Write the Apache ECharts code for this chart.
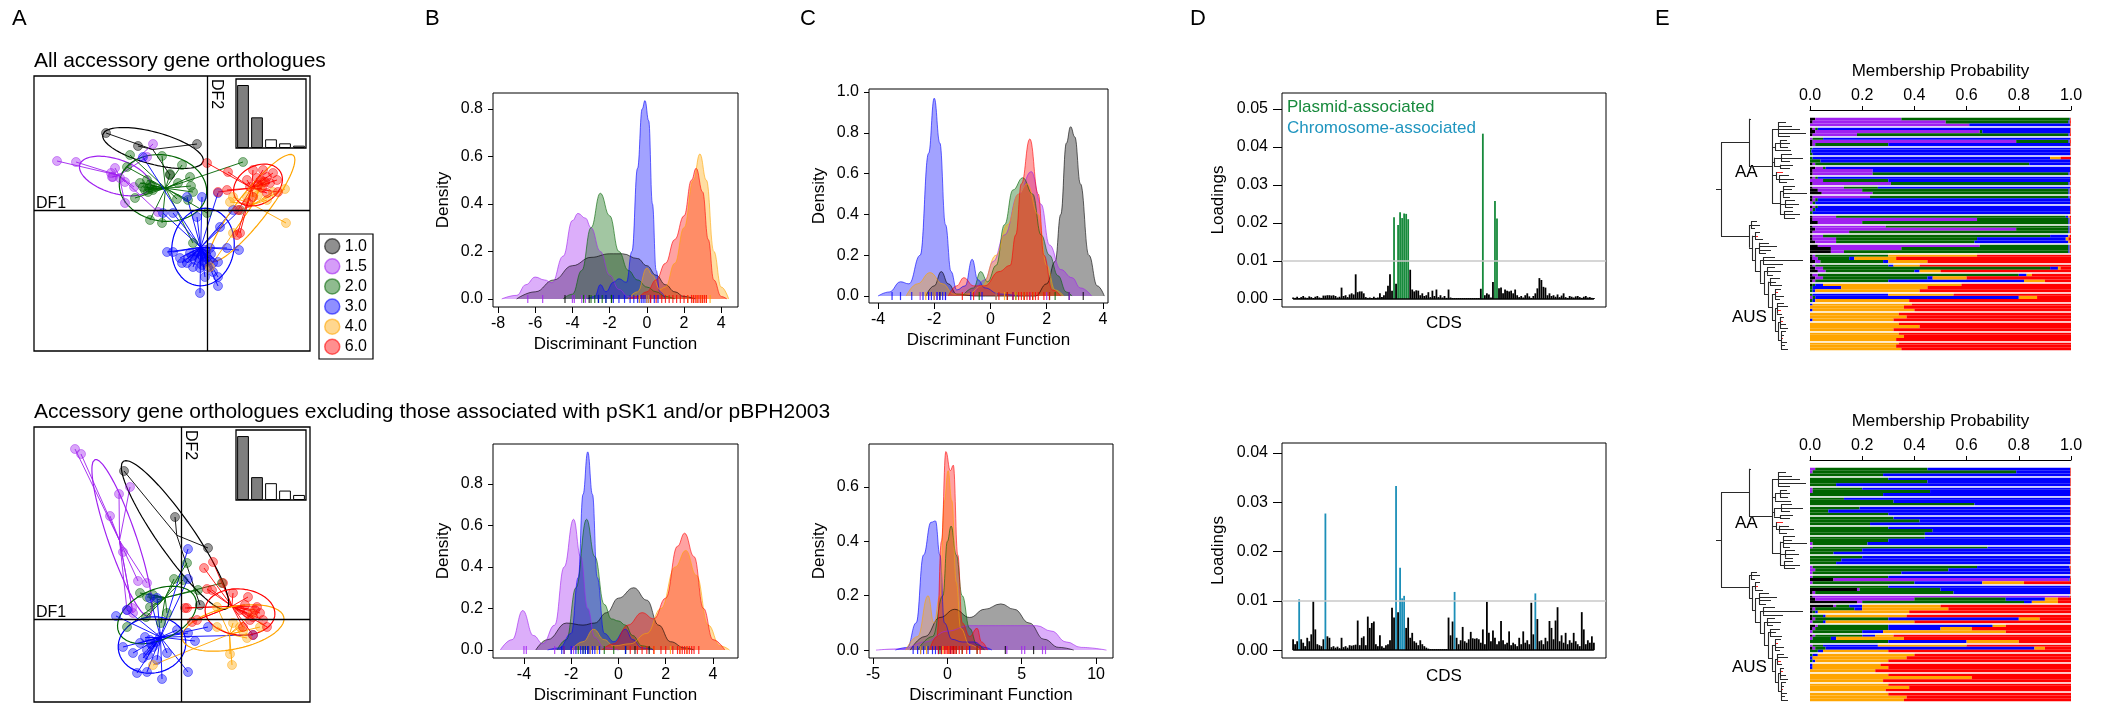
<!DOCTYPE html>
<html><head><meta charset="utf-8">
<script src="https://cdn.jsdelivr.net/npm/echarts@6/dist/echarts.min.js"></script>
<style>html,body{margin:0;padding:0;background:#fff}#c{width:2105px;height:709px}</style>
</head><body><div id="c"></div>
<script>
const FONT = '"Liberation Sans", Arial, Helvetica, sans-serif';
const groups = ['1.0','1.5','2.0','3.0','4.0','6.0'];
const groupColors = ['#000000','#a020f0','#006400','#0000ff','#ffa500','#ff0000'];

// ---------- Panel A: DAPC scatter (DF1, DF2) ----------
const scatA1 = [
 [[-10.1,7.7],[-6.9,6.4],[-1.0,6.6],[-3.7,3.5]],
 [[-15.0,4.9],[-13.1,4.8],[-9.6,3.7],[-9.4,3.3],[-9.2,4.2],[-8.2,2.8],[-7.3,2.3],[-8.2,0.7],[-4.9,-0.2],[-5.4,6.6],[-6.0,5.3],[-9.5,3.3],[-8.7,3.2]],
 [[-7.7,5.5],[-4.5,5.4],[-2.5,4.5],[-1.7,3.3],[-2.9,2.7],[-1.6,2.4],[-1.4,1.8],[-3.0,1.1],[-1.9,1.0],[-7.2,1.2],[-5.7,-1.0],[-4.5,-1.3],[0,-0.3],[3.6,4.8],[-3.7,3.6],[-8.0,4.3],[-6.0,3.0],[-5.7,2.5],[-6.4,2.3],[-5.4,2.0],[-5.9,1.8],[-6.7,2.7],[-1.4,-3.3],[-5.8,2.2],[-6.2,2.0],[-5.5,2.4]],
 [[-0.7,-8.3],[1.1,-7.6],[1.1,-6.7],[-4.0,-4.2],[-3.4,-4.2],[-2.7,-4.8],[-2.5,-5.3],[-2.0,-5.3],[-1.4,-5.7],[-0.7,-5.8],[0.1,-5.7],[0.6,-5.3],[2.0,-3.8],[3.2,-4.0],[-2.0,1.3],[-0.5,1.3],[1.1,1.7],[3.3,0],[-6.4,5.3],[-3.4,-0.3],[-4.4,-0.3],[-1.0,-0.7],[-0.4,-4.3],[0,-4.7],[-0.9,-4.8],[0.6,-6.2],[-0.2,-6.7],[1.1,-5.2],[-1.7,-4.3],[0.3,-3.8],[2.6,0],[1.3,-1.7],[-1.2,-5.0],[-0.3,-5.2],[0.4,-4.4],[-1.9,-4.8],[-0.6,-4.5],[-0.2,-4.0],[-1.0,-4.2],[0.2,-5.0],[-0.5,-5.5],[-1.5,-4.6]],
 [[2.3,0.8],[2.6,1.3],[7.8,2.1],[7.9,-1.3],[0.3,-5.7],[3.3,0],[6.0,1.0],[5.3,2.3],[4.6,1.8],[5.6,2.8],[6.6,1.8],[4.0,1.3],[2.6,-2.3],[5.1,1.5]],
 [[0,4.7],[2.1,3.8],[1.1,1.8],[2.0,2.0],[3.1,0],[3.0,-2.5],[3.3,-2.3],[4.0,3.0],[4.6,4.0],[5.6,4.0],[6.6,3.7],[7.0,3.0],[7.1,1.8],[6.0,1.7],[4.6,1.3],[5.1,2.5],[5.0,3.2],[6.0,3.3],[4.3,2.3],[5.5,2.2],[6.3,2.7],[4.1,0.7],[5.4,3.0],[5.8,2.8]]
];
// ellipse: [cx, cy, semi-major, semi-minor, angle deg]
const ellA1 = [[-5.4,6.2,5.2,1.6,-15],[-9.2,3.4,3.7,1.7,-18],[-4.4,2.2,4.4,3.3,-10],[-0.4,-3.7,3.9,3.1,80],[4.5,0.2,6.7,1.5,52],[5.1,2.5,2.6,1.9,30]];
const eigA1 = [189,92,26,14,7];

const scatA2 = [
 [[-5.7,14.8],[-0.6,10.2],[2.7,7.1],[1.9,1.4]],
 [[-10.6,17.0],[-10.0,16.5],[-6.2,12.5],[-5.1,13.2],[-7.1,10.3],[-5.8,6.7],[-4.3,3.8],[-3.4,3.6],[-5.4,0.9],[-4.8,0.6],[-4.9,1.1]],
 [[0.6,5.6],[-0.7,4.0],[0.2,3.9],[1.7,2.9],[4.1,3.6],[-4.1,2.6],[-2.4,1.9],[-5.4,-0.8],[-3.1,1.2],[-1.4,0.6],[-3.4,2.2],[-2.8,2.4],[-3.5,0.2],[-2.0,-0.4]],
 [[0.7,7.0],[0.7,4.0],[0.7,-5.3],[-1.9,-6.0],[-4.4,-5.4],[-3.4,-5.3],[-5.8,-2.8],[-6.5,0.3],[-5.4,0.9],[-2.4,2.1],[-0.4,-1.1],[1.4,-2.2],[7.2,-1.6],[2.7,-0.8],[-4.8,-3.4],[-3.8,-3.9],[-2.4,-4.1],[-1.4,-3.4],[-3.1,-2.1],[-4.1,-2.4],[-2.8,-2.8],[-2.1,-1.8],[-3.4,-3.1],[0.7,-1.4],[-3.1,2.1],[-3.0,-2.5],[-3.6,-1.8],[-2.5,-2.3],[-3.3,-3.6]],
 [[4.9,-3.5],[5.1,-4.6],[-2.8,-4.6],[3.6,-0.8],[6.6,-1.9],[7.9,-0.8],[7.2,0.6],[3.6,1.2],[5.9,-0.8],[5.2,-0.4],[6.2,-1.2]],
 [[2.3,5.1],[3.2,5.7],[3.1,2.9],[4.2,3.6],[2.6,3.0],[0.4,1.1],[1.1,-0.3],[1.6,-0.1],[5.2,2.6],[6.7,2.2],[7.6,1.2],[8.2,-0.1],[8.6,-0.8],[7.2,-1.6],[6.2,-0.8],[0.6,1.1],[5.9,0.9],[6.6,0.6],[7.2,0.2],[7.9,0.6],[6.9,-0.1],[7.4,0.9],[6.4,1.4]]
];
const ellA2 = [[-0.6,8.4,9,1.8,-55],[-5.9,8.1,8.3,1.4,-71],[-2.4,0.4,4.2,2.5,25],[-2.9,-2.6,3.4,2.8,10],[5.2,-0.9,5.2,2.1,12],[5.9,0.7,3.5,2.3,-5]];
const eigA2 = [190,68,50,28,15];

// ---------- Panels B & C: densities [x, density] per group ----------
const densB1 = [
 [[-7.0,0],[-6,0.03],[-5,0.08],[-4,0.14],[-3,0.175],[-2,0.19],[-1.3,0.19],[-0.5,0.17],[0,0.14],[0.5,0.1],[1,0.06],[1.5,0.03],[2,0.01],[2.6,0]],
 [[-7.8,0],[-7,0.015],[-6.5,0.06],[-6,0.092],[-5.5,0.08],[-5.1,0.068],[-4.5,0.18],[-4,0.33],[-3.7,0.36],[-3.3,0.34],[-3,0.3],[-2.5,0.2],[-2,0.1],[-1.5,0.04],[-1,0.01],[-0.5,0]],
 [[-4.5,0],[-4,0.02],[-3.5,0.12],[-3,0.3],[-2.5,0.445],[-2,0.35],[-1.5,0.2],[-1,0.12],[-0.5,0.08],[0,0.05],[0.5,0.03],[1,0.01],[1.5,0]],
 [[-3.2,0],[-2.8,0.01],[-2.5,0.06],[-2.2,0.03],[-1.8,0.07],[-1.5,0.085],[-1.1,0.07],[-0.8,0.2],[-0.5,0.55],[-0.25,0.8],[-0.1,0.835],[0.1,0.75],[0.3,0.4],[0.5,0.12],[0.7,0.03],[1,0]],
 [[-1,0],[-0.5,0.03],[0,0.13],[0.3,0.1],[0.7,0.04],[1,0.05],[1.5,0.15],[2,0.3],[2.5,0.5],[2.85,0.61],[3.2,0.5],[3.6,0.2],[4,0.05],[4.4,0]],
 [[-1,0],[-0.5,0.01],[0,0.03],[0.5,0.08],[1,0.15],[1.5,0.25],[2,0.35],[2.4,0.5],[2.65,0.55],[3,0.45],[3.3,0.25],[3.6,0.08],[4,0.01],[4.3,0]]
];
const densC1 = [
 [[-2.3,0],[-2.0,0.05],[-1.75,0.12],[-1.5,0.06],[-1.2,0.01],[-0.5,0],[1.6,0],[2.0,0.06],[2.3,0.17],[2.5,0.4],[2.7,0.75],[2.85,0.83],[3.0,0.78],[3.2,0.55],[3.5,0.2],[3.8,0.05],[4.05,0]],
 [[-0.6,0],[-0.2,0.08],[0.1,0.17],[0.5,0.3],[1,0.5],[1.45,0.61],[1.8,0.45],[2.1,0.25],[2.5,0.13],[2.9,0.09],[3.2,0.04],[3.6,0]],
 [[-1,0],[-0.6,0.04],[-0.35,0.12],[-0.1,0.07],[0.2,0.15],[0.5,0.35],[0.8,0.52],[1.15,0.58],[1.5,0.5],[1.8,0.3],[2.1,0.2],[2.4,0.1],[2.7,0.02],[2.9,0]],
 [[-4,0],[-3.6,0.02],[-3.2,0.07],[-2.9,0.06],[-2.5,0.2],[-2.2,0.7],[-2.0,0.97],[-1.8,0.75],[-1.6,0.35],[-1.4,0.12],[-1.2,0.03],[-0.9,0.05],[-0.65,0.18],[-0.45,0.08],[-0.2,0.04],[0.3,0.01],[1,0]],
 [[-3,0],[-2.6,0.06],[-2.15,0.115],[-1.7,0.06],[-1.3,0.01],[-0.8,0.01],[-0.3,0.05],[0.2,0.2],[0.6,0.35],[1,0.5],[1.3,0.55],[1.7,0.4],[2,0.15],[2.3,0.03],[2.6,0]],
 [[-1.5,0],[-1.2,0.05],[-0.95,0.09],[-0.6,0.05],[-0.2,0.05],[0.3,0.12],[0.7,0.15],[0.9,0.3],[1.1,0.55],[1.4,0.77],[1.7,0.5],[1.9,0.2],[2.2,0.03],[2.5,0]]
];
const densB2 = [
 [[-3.5,0],[-3,0.05],[-2.2,0.13],[-1.5,0.12],[-1,0.13],[-0.5,0.18],[0,0.25],[0.65,0.3],[1.2,0.24],[1.7,0.12],[2.2,0.04],[2.8,0.01],[3.2,0]],
 [[-5,0],[-4.5,0.05],[-4.05,0.19],[-3.6,0.07],[-3.2,0.03],[-2.7,0.12],[-2.3,0.4],[-1.9,0.63],[-1.6,0.45],[-1.3,0.2],[-1,0.06],[-0.6,0.01],[0,0]],
 [[-2.6,0],[-2.2,0.05],[-1.8,0.3],[-1.35,0.63],[-1,0.45],[-0.6,0.22],[-0.3,0.15],[0,0.14],[0.3,0.12],[0.6,0.07],[1,0.02],[1.5,0]],
 [[-3,0],[-2.5,0.01],[-2,0.08],[-1.7,0.35],[-1.5,0.75],[-1.3,0.955],[-1.1,0.75],[-0.9,0.35],[-0.6,0.08],[-0.2,0.04],[0.3,0.1],[0.6,0.05],[1,0.01],[1.5,0]],
 [[-2,0],[-1.5,0.04],[-1.05,0.1],[-0.6,0.05],[-0.2,0.02],[0.5,0.03],[1.2,0.08],[1.8,0.2],[2.4,0.4],[2.85,0.48],[3.3,0.36],[3.8,0.12],[4.3,0.02],[4.7,0]],
 [[-0.7,0],[-0.2,0.03],[0.4,0.12],[1.0,0.18],[1.5,0.15],[2.0,0.25],[2.5,0.5],[2.8,0.563],[3.2,0.45],[3.6,0.2],[4,0.05],[4.5,0]]
];
const densC2 = [
 [[-2.5,0],[-1.5,0.05],[-0.5,0.12],[0.5,0.15],[1.5,0.12],[2.5,0.15],[3.6,0.17],[4.5,0.15],[5.5,0.1],[6.5,0.04],[7.5,0.01],[8.5,0]],
 [[-4.8,0],[-3,0.005],[-1.5,0.03],[0,0.07],[1.5,0.09],[3,0.09],[4.5,0.09],[6,0.09],[7,0.07],[8,0.03],[9,0.01],[10.7,0]],
 [[-2,0],[-1,0.05],[-0.3,0.2],[0,0.4],[0.25,0.456],[0.6,0.35],[1,0.2],[1.5,0.08],[2,0.02],[2.5,0]],
 [[-3.5,0],[-2.7,0.01],[-2.1,0.1],[-1.6,0.35],[-1.1,0.47],[-0.8,0.475],[-0.5,0.35],[-0.2,0.1],[0.3,0.04],[1,0.03],[1.8,0.03],[2.5,0.01],[3,0]],
 [[-2.8,0],[-2,0.05],[-1.3,0.2],[-0.9,0.1],[-0.5,0.2],[-0.2,0.55],[0.05,0.66],[0.3,0.55],[0.6,0.25],[0.9,0.08],[1.5,0.02],[2.2,0]],
 [[-1.2,0],[-0.7,0.05],[-0.4,0.4],[-0.1,0.73],[0.2,0.66],[0.4,0.68],[0.7,0.35],[1.0,0.1],[1.5,0.05],[2.0,0.08],[2.3,0.03],[2.7,0]]
];
const rugB1 = [[-4.4,-3.1,-2.6,-1.9],[-6.4,-5.6,-4.0,-3.9,-3.5,-3.3],[-3.4,-3.0,-2.8,-2.6,-2.4,-2.2,-1.9],[-2.6,-2.2,-1.8,-1.5,-1.2,-0.9,-0.7,-0.5,-0.4,-0.3,-0.2,-0.1,0,0.1,0.2,0.4,0.6],[-0.4,0,0.1,2.2,2.5,2.7,2.9,3.0,3.2,3.4],[0.2,0.5,0.8,1.0,1.2,1.4,1.6,1.8,2.0,2.2,2.4,2.5,2.6,2.7,2.8,2.9,3.0,3.1,3.2]];
const rugC1 = [[-1.8,2.8,3.3],[-2.5,-2.2,-1.9,-1.6,1.4,2.0,2.8],[-0.4,0.6,0.9,1.2,1.5,2.1,2.3],[-3.5,-3.2,-2.8,-2.4,-2.2,-2.1,-2.0,-1.9,-1.8,-1.7,-1.6,-0.7,-0.3,0.2,0.8],[-2.3,-2.0,0.2,0.5,0.9,1.2,1.5],[-1.0,-0.6,0.3,0.6,0.8,1.0,1.1,1.2,1.3,1.4,1.5,1.6,1.7,1.9,2.1]];
const rugB2 = [[-2.3,0.3,0.7,1.3],[-4.0,-3.9,-2.7,-2.3,-2.0,-1.9],[-1.7,-1.5,-1.4,-1.3,-0.6,-0.2,0.3],[-2.4,-2.0,-1.8,-1.6,-1.5,-1.4,-1.3,-1.25,-1.2,-1.1,-1.0,-0.8,0.3],[-1.2,-0.9,1.5,2.2,2.6,2.9],[0.5,0.8,1.0,1.2,1.5,1.8,2.0,2.3,2.5,2.6,2.7,2.8,2.9,3.0,3.1,3.2,3.4]];
const rugC2 = [[0.4,3.9,5.8],[4.0,5.0,5.2,6.4,6.6],[-0.5,0.2,0.6,1.0,2.0],[-2.3,-2.0,-1.8,-1.6,-1.3,-1.0,-0.8,-0.6,-0.4,0.2,1.5],[-1.8,-1.4,-0.3,0.1],[-0.6,-0.4,-0.2,-0.1,0,0.1,0.2,0.3,0.4,0.5,0.6,0.8,1.0,1.3,2.0,2.2]];
const ticksB1x = [-8,-6,-4,-2,0,2,4], ticksB1y = [0,0.2,0.4,0.6,0.8];
const ticksC1x = [-4,-2,0,2,4], ticksC1y = [0,0.2,0.4,0.6,0.8,1.0];
const ticksB2x = [-4,-2,0,2,4], ticksB2y = [0,0.2,0.4,0.6,0.8];
const ticksC2x = [-5,0,5,10], ticksC2y = [0,0.2,0.4,0.6];

// ---------- Panel D: loadings per CDS ----------
const loadD1 = [0.0004,0.0003,0.0006,0.0002,0.0005,0.0008,0.0004,0.0003,0.0007,0.0005,0.0002,0.0006,0.0008,0.0004,0.0003,0.0009,0.0009,0.001,0.001,0.0009,0.001,0.0008,0.0004,0.0006,
 0.003,0.0008,0.001,0.0005,0.0012,0.0015,0.0012,0.0065,0.0018,0.002,0.002,0.0015,0.0005,0.0003,0.0004,0.0002,0.0006,0.0003,0.0004,0.0015,0.0005,0.001,0.002,
 0.0035,0.0065,0.0022,0.0215,0.004,0.0195,0.0228,0.0213,0.0225,0.0224,0.021,0.0077,
 0.0025,0.002,0.0023,0.0022,0.001,0.0015,0.0008,0.001,0.0018,0.0005,0.0022,0.0008,0.0025,0.0005,0.001,0.0004,0.0008,0.0003,0.0025,
 0.0004,0.0002,0.0001,0.0001,0.0001,0.0001,0.0001,0.0001,0.0001,0.0001,0.0001,0.0001,0.0001,0.0002,0.0001,
 0.0027,0.0435,0.001,0.0015,0.0012,0.0004,0.0045,0.0258,0.0212,
 0.0028,0.003,0.0015,0.0025,0.0022,0.002,0.0022,0.0015,0.0025,0.001,0.0005,0.0008,0.0004,0.001,0.0015,0.0007,0.0003,0.0008,0.0015,
 0.0028,0.0055,0.005,0.0032,0.003,0.001,0.0015,0.0008,0.001,0.0006,0.0012,0.0005,0.0009,0.0015,
 0.0005,0.0003,0.0008,0.0006,0.0004,0.0007,0.0008,0.0005,0.0003,0.0006,0.0008,0.0004,0.0005,0.0003,0.0002];
const plasmidD1 = [50,52,53,54,55,56,57,94,100,101];
const loadD2 = [0.0022,0.0012,0.0018,0.0103,0.0022,0.0015,0.0008,0.0025,0.0018,0.0032,0.0099,0.0042,0.0012,0.001,0.0008,0.0022,0.0277,0.0028,0.0025,0.0006,
 0.0008,0.0005,0.0007,0.0004,0.0025,0.0006,0.0008,0.0005,0.001,0.0009,0.001,0.0011,0.006,0.001,0.0025,0.0028,0.001,0.0068,0.0045,0.0055,
 0.0058,0.0012,0.0008,0.003,0.0008,0.0005,0.001,0.0012,0.002,0.0086,0.0066,0.0333,0.0077,0.0167,0.0105,0.011,0.0045,0.0066,0.0025,0.0035,
 0.0018,0.0015,0.001,0.002,0.0012,0.0008,0.0005,0.0003,0.0002,0.0001,0.0001,0.0002,0.0001,0.0001,0.0002,0.0001,0.0001,0.0066,0.003,0.0058,
 0.0118,0.0025,0.0012,0.002,0.0047,0.0018,0.0015,0.0022,0.0037,0.0024,0.0023,0.0024,0.0022,0.0015,0.0042,0.0012,0.0098,0.0035,0.0018,0.004,
 0.0025,0.0012,0.0018,0.0059,0.002,0.0012,0.0015,0.0038,0.001,0.0015,0.0012,0.0008,0.0025,0.0012,0.0038,0.0015,0.002,0.0012,0.0096,0.0032,
 0.0115,0.0063,0.0018,0.002,0.0012,0.0025,0.0018,0.0059,0.0045,0.0022,0.006,0.0087,0.0018,0.003,0.0015,0.0035,0.0012,0.002,0.0015,0.0035,
 0.0018,0.0012,0.0008,0.0077,0.0042,0.0012,0.002,0.0015,0.0028,0.0015];
const chromD2 = [3,16,51,53,54,55,80,120];
const ticksD1y = [0,0.01,0.02,0.03,0.04,0.05], ticksD2y = [0,0.01,0.02,0.03,0.04];

// ---------- Panel E: membership probability rows (cumulative ends: 1.0,1.5,2.0,3.0,4.0; 6.0 fills to 1) ----------
const memE1 = [
 [0.02,0.35,0.995,0.997,0.998],[0.01,0.52,0.99,0.995,0.997],[0.0,0.61,0.61,0.997,0.998],
 [0.01,0.02,0.03,0.997,0.998],[0.02,0.65,0.66,0.997,0.998],[0.01,0.18,0.99,0.995,0.997],
 [0,0.01,0.05,0.997,0.998],[0.01,0.79,0.99,0.995,0.997],[0.01,0.02,0.3,0.997,0.998],
 [0,0,0.01,0.997,0.998],[0,0,0.005,0.997,0.998],[0,0,0.01,0.997,0.998],
 [0,0,0.01,0.92,0.96],[0,0,0.04,0.997,0.998],[0.01,0.02,0.84,0.997,0.998],
 [0.02,0.05,0.06,0.997,0.998],[0.01,0.24,0.24,0.997,0.998],[0.01,0.24,0.99,0.995,0.997],
 [0.01,0.02,0.03,0.997,0.998],[0,0.05,0.3,0.997,0.998],[0.01,0.31,0.99,0.995,0.997],
 [0.01,0.13,0.26,0.997,0.998],[0.03,0.2,0.99,0.995,0.997],[0.045,0.24,0.99,0.995,0.997],
 [0.01,0.23,0.99,0.995,0.997],[0.01,0.02,0.03,0.997,0.998],[0,0.01,0.02,0.997,0.998],
 [0.01,0.02,0.03,0.997,0.998],[0,0.01,0.02,0.997,0.998],[0,0,0.01,0.997,0.998],
 [0.01,0.1,0.98,0.99,0.995],[0.01,0.64,0.99,0.995,0.997],[0.03,0.2,0.99,0.995,0.997],
 [0.01,0.29,0.99,0.995,0.997],[0.02,0.79,0.99,0.995,0.997],[0.01,0.15,0.99,0.995,0.997],
 [0.01,0.05,0.92,0.99,0.995],[0.01,0.1,0.64,0.98,0.99],[0.02,0.1,0.63,0.99,0.995],
 [0.03,0.65,0.99,0.995,0.997],[0.08,0.35,0.99,0.995,0.997],[0.08,0.13,0.99,0.995,0.997],
 [0.01,0.02,0.3,0.3,0.64],[0.01,0.03,0.15,0.17,0.33],[0.02,0.04,0.28,0.3,0.45],
 [0.01,0.02,0.3,0.32,0.42],[0.02,0.05,0.92,0.95,0.96],[0.03,0.06,0.4,0.42,0.5],
 [0.01,0.03,0.8,0.83,0.85],[0.02,0.05,0.45,0.47,0.6],[0.01,0.02,0.3,0.82,0.9],
 [0.01,0.01,0.02,0.05,0.58],[0,0,0.01,0.12,0.45],[0,0,0.01,0.02,0.42],
 [0,0,0.01,0.3,0.55],[0,0.01,0.02,0.8,0.87],[0,0,0.01,0.02,0.38],
 [0,0,0,0.01,0.39],[0,0,0,0,0.36],[0,0,0,0.01,0.4],
 [0,0,0,0,0.34],[0,0,0,0,0.37],[0,0,0,0.01,0.32],
 [0,0,0,0,0.34],[0,0,0,0,0.42],[0,0,0,0,0.32],
 [0,0,0,0,0.34],[0,0,0,0,0.36],[0,0,0,0,0.33],
 [0,0,0,0,0.34],[0,0,0,0,0.33],[0,0,0,0,0.35]
];
const memE2 = [
 [0,0.02,0.45,0.997,0.998],[0,0.01,0.79,0.997,0.998],[0,0,0.28,0.997,0.998],
 [0,0,0.3,0.997,0.998],[0,0,0.45,0.997,0.998],[0,0,0.1,0.997,0.998],
 [0,0.01,0.2,0.997,0.998],[0,0.01,0.46,0.997,0.998],[0,0,0.28,0.997,0.998],
 [0,0,0.13,0.997,0.998],[0,0,0.32,0.997,0.998],[0,0,0.63,0.997,0.998],
 [0,0,0.19,0.997,0.998],[0,0,0.07,0.997,0.998],[0,0,0.3,0.997,0.998],
 [0,0,0.32,0.997,0.998],[0,0,0.42,0.997,0.998],[0,0,0.23,0.997,0.998],
 [0,0,0.3,0.997,0.998],[0,0,0.47,0.997,0.998],[0,0,0.44,0.997,0.998],
 [0,0,0.44,0.997,0.998],[0,0,0.3,0.997,0.998],[0,0.01,0.22,0.997,0.998],
 [0,0.01,0.68,0.997,0.998],[0,0,0.2,0.997,0.998],[0,0,0.09,0.997,0.998],
 [0,0,0.2,0.997,0.998],[0,0,0.12,0.997,0.998],[0,0,0.1,0.997,0.998],
 [0,0.01,0.64,0.995,0.998],[0,0.02,0.53,0.997,0.998],[0,0.01,0.35,0.997,0.998],
 [0,0.01,0.3,0.997,0.998],[0.09,0.99,0.99,0.995,0.997],[0,0.01,0.4,0.66,0.82],
 [0,0,0.3,0.997,0.998],[0.18,0.19,0.5,0.997,0.998],[0.01,0.02,0.55,0.997,0.998],
 [0.01,0.99,0.99,0.995,0.997],[0.02,0.4,0.75,0.9,0.95],[0.18,0.2,0.82,0.85,0.95],
 [0.09,0.1,0.15,0.2,0.5],[0.01,0.02,0.17,0.2,0.53],[0.01,0.01,0.02,0.03,0.38],
 [0.01,0.01,0.05,0.06,0.37],[0.01,0.02,0.3,0.8,0.88],[0,0.01,0.05,0.06,0.4],
 [0.02,0.03,0.3,0.7,0.75],[0.01,0.02,0.3,0.5,0.62],[0,0.01,0.2,0.28,0.75],
 [0.01,0.02,0.2,0.25,0.32],[0,0.01,0.08,0.1,0.36],[0,0,0.3,0.6,0.8],
 [0,0.01,0.05,0.26,0.6],[0.01,0.02,0.06,0.86,0.9],[0,0,0.03,0.05,0.3],
 [0,0,0.01,0.03,0.4],[0,0,0,0.01,0.37],[0,0,0.01,0.02,0.3],
 [0,0,0,0.01,0.27],[0,0,0,0.01,0.3],[0,0,0,0,0.25],
 [0,0,0,0,0.3],[0,0,0,0,0.62],[0,0,0,0,0.28],
 [0,0,0,0,0.3],[0,0,0,0,0.38],[0,0,0,0,0.29],
 [0,0,0,0,0.3],[0,0,0,0,0.37],[0,0,0,0,0.36]
];
const ticksE = [0,0.2,0.4,0.6,0.8,1.0];
// phylogeny: [branch length, children...]; number = leaf branch length; {r:len} = red leaf
const treeAA = [28, 2,
 [23,
  [6, 8, 14, 22, 28, 12],
  [3, [5, 7, 10, 8], 16],
  [2, [7, 11, 22, 9], [6, 13, 10]],
  [4, {r:7}, [3, 10, 15, 8]],
  [8, [3, 12, 9, 24, 7], [5, 10, 14, 8], [4, 9, 16, 11]]
 ]];
const treeAUS = [28,
 [2, 6, 9, 4],
 [3, [3, 5, {r:3}, 8],
  [3, [4, 10, 18, 12, 7],
   [5, [3, 12, 40, 20],
    [4, [3, 8, 14, 6],
     [4, [2, 10, 6, 12],
      [4, [3, 6, {r:3}, 9, 5],
       [3, [2, 7, 11, {r:4}, 5],
        [3, [2, 4, {r:3}, 6, 8], [3, 5, 3, {r:2}, 6, 4, 7]]]]]]]]]];
const treeAll = [5, treeAA, treeAUS];

// ---------- helpers ----------
function rgba(hex, a){ const n = parseInt(hex.slice(1),16); return 'rgba('+(n>>16&255)+','+(n>>8&255)+','+(n&255)+','+a+')'; }
const txt = (s,extra) => Object.assign({fontFamily:FONT, color:'#000', fontSize:s}, extra||{});
const grids = [
 {left:34, top:76, width:276, height:275, show:true, borderColor:'#000', borderWidth:1.3},   //0 A1
 {left:236, top:79, width:70, height:69, show:true, borderColor:'#000', borderWidth:1.3, backgroundColor:'#fff'}, //1 inset
 {left:493, top:93, width:245, height:214, show:true, borderColor:'#000', borderWidth:1}, //2 B1
 {left:869, top:89, width:239, height:214, show:true, borderColor:'#000', borderWidth:1}, //3 C1
 {left:1282, top:93, width:324, height:214, show:true, borderColor:'#000', borderWidth:1}, //4 D1
 {left:1716, top:117, width:94, height:234}, //5 tree1
 {left:1810, top:117, width:261, height:234}, //6 E1
 {left:34, top:427, width:276, height:275, show:true, borderColor:'#000', borderWidth:1.3}, //7 A2
 {left:236, top:430, width:70, height:70, show:true, borderColor:'#000', borderWidth:1.3, backgroundColor:'#fff'}, //8 inset
 {left:493, top:444, width:245, height:214, show:true, borderColor:'#000', borderWidth:1}, //9 B2
 {left:869, top:444, width:244, height:214, show:true, borderColor:'#000', borderWidth:1}, //10 C2
 {left:1282, top:443, width:324, height:215, show:true, borderColor:'#000', borderWidth:1}, //11 D2
 {left:1716, top:467, width:94, height:235}, //12 tree2
 {left:1810, top:467, width:261, height:235} //13 E2
];
const xAxes = [], yAxes = [], series = [];
function hidden(gi, min, max, extra){ return Object.assign({gridIndex:gi, type:'value', min, max, show:false, axisLine:{onZero:false}}, extra||{}); }

function scatterPanel(gi, pts, ells, named){
  ells.forEach((e,k)=>{
    const cx=e[0], cy=e[1], a=e[2], b=e[3], th=e[4]*Math.PI/180, d=[];
    for(let i=0;i<=90;i++){ const t=i/90*2*Math.PI;
      d.push([cx+a*Math.cos(t)*Math.cos(th)-b*Math.sin(t)*Math.sin(th), cy+a*Math.cos(t)*Math.sin(th)+b*Math.sin(t)*Math.cos(th)]); }
    const s = {type:'line', xAxisIndex:gi, yAxisIndex:gi, data:d, symbol:'none', silent:true, z:3,
      lineStyle:{color:groupColors[k], width:1.2}};
    if(k===0) s.markLine = {symbol:'none', silent:true, label:{show:false}, animation:false,
      lineStyle:{color:'#000', width:1.3, type:'solid'}, data:[{xAxis:0},{yAxis:0}]};
    series.push(s);
  });
  const segs = [];
  pts.forEach((p,k)=>{
    const mx = p.reduce((s,q)=>s+q[0],0)/p.length, my = p.reduce((s,q)=>s+q[1],0)/p.length;
    p.forEach(q=>segs.push({coords:[[mx,my],q], lineStyle:{color:groupColors[k]}}));
  });
  series.push({type:'lines', coordinateSystem:'cartesian2d', xAxisIndex:gi, yAxisIndex:gi, data:segs, silent:true, z:3,
    lineStyle:{width:1, opacity:0.9}});
  pts.forEach((p,k)=>series.push({type:'scatter', name: named ? groups[k] : ('p'+gi+'_'+k), xAxisIndex:gi, yAxisIndex:gi,
    data:p, symbolSize:9, silent:true, z:4,
    itemStyle:{color:rgba(groupColors[k],0.5), borderColor:rgba(groupColors[k],0.55), borderWidth:1}}));
}
function insetPanel(gi, vals, max){
  xAxes.push({gridIndex:gi, type:'category', data:vals.map((v,i)=>String(i+1)), show:false});
  yAxes.push(hidden(gi, 0, max));
  series.push({type:'bar', xAxisIndex:gi, yAxisIndex:gi, barCategoryGap:'16%', silent:true, z:5,
    data: vals.map((v,i)=>({value:v, itemStyle:{color: i<2 ? '#7f7f7f' : '#ffffff'}})),
    itemStyle:{borderColor:'#000', borderWidth:1}});
}
function tickAxis(gi, min, max, ticks, fmt, name, gap, tickLen, margin){
  return {gridIndex:gi, type:'value', min, max, splitLine:{show:false},
    axisLine:{show:false, onZero:false},
    axisTick:{show:true, length:tickLen, lineStyle:{color:'#000', width:1}, customValues:ticks},
    axisLabel:Object.assign({customValues:ticks, margin, formatter:fmt}, txt(16)),
    name, nameLocation:'middle', nameGap:gap, nameTextStyle:txt(17)};
}
function densPanel(gi, dens, rug, xr, xt, yr, yt){
  xAxes.push(tickAxis(gi, xr[0], xr[1], xt, v=>String(v), 'Discriminant Function', 29, 6, 9));
  yAxes.push(tickAxis(gi, yr[0], yr[1], yt, v=>v.toFixed(1), 'Density', 41, 5, 10));
  dens.forEach((d,k)=>series.push({type:'line', name:'d'+gi+'_'+k, xAxisIndex:gi, yAxisIndex:gi, data:d,
    smooth:0.45, smoothMonotone:'x', symbol:'none', silent:true, z:2,
    lineStyle:{color:rgba(groupColors[k],0.6), width:1}, areaStyle:{color:rgba(groupColors[k],0.52)}}));
  rug.forEach((r,k)=>series.push({type:'scatter', xAxisIndex:gi, yAxisIndex:gi, data:r.map(v=>[v,0]),
    symbol:'rect', symbolSize:[1.2,8], silent:true, z:3, itemStyle:{color:groupColors[k]}}));
}
function loadPanel(gi, vals, hi, hiColor, yr, yt, cdsGap){
  xAxes.push({gridIndex:gi, type:'value', min:-5.5, max:vals.length+5, axisLine:{show:false,onZero:false},
    axisTick:{show:false}, axisLabel:{show:false}, splitLine:{show:false},
    name:'CDS', nameLocation:'middle', nameGap:cdsGap, nameTextStyle:txt(17)});
  yAxes.push(tickAxis(gi, yr[0], yr[1], yt, v=>v.toFixed(2), 'Loadings', 55, 9, 14));
  series.push({type:'bar', xAxisIndex:gi, yAxisIndex:gi, barWidth:1.8, barMinHeight:1, silent:true, z:2,
    data: vals.map((v,i)=>({value:[i,v], itemStyle:{color: hi.indexOf(i)>=0 ? hiColor : '#000'}})),
    markLine:{symbol:'none', silent:true, label:{show:false}, animation:false,
      lineStyle:{color:'#c8c8c8', width:1.5, type:'solid'}, data:[{yAxis:0.01}]}});
  // baseline along the CDS range (first to last CDS at zero loading)
  series.push({type:'line', xAxisIndex:gi, yAxisIndex:gi, data:[[0,0],[vals.length-1,0]], symbol:'none', silent:true, z:3,
    lineStyle:{color:'#000', width:1.5}});
}
function layTree(node, px, segs, st){
  if(!Array.isArray(node)){
    const red = typeof node !== 'number', len = red ? node.r : node, y = st.n++;
    segs.push({coords:[[px,y],[px+len,y]], red}); return y;
  }
  const x = px + node[0];
  const ys = node.slice(1).map(c=>layTree(c, x, segs, st));
  const y = (ys[0]+ys[ys.length-1])/2;
  segs.push({coords:[[px,y],[x,y]]});
  segs.push({coords:[[x,ys[0]],[x,ys[ys.length-1]]]});
  return y;
}
function treePanel(gi){
  const segs=[], st={n:0}; layTree(treeAll, 0, segs, st);
  xAxes.push(hidden(gi, 0, 94));
  yAxes.push(hidden(gi, -0.5, st.n-0.5, {inverse:true}));
  series.push({type:'lines', coordinateSystem:'cartesian2d', xAxisIndex:gi, yAxisIndex:gi, silent:true, z:2,
    lineStyle:{width:1.1, opacity:1},
    data: segs.map(s=>({coords:s.coords, lineStyle:{color: s.red ? '#ff2020' : '#2a2a2a', opacity:1}}))});
}
function memPanel(gi, rows){
  xAxes.push({gridIndex:gi, type:'value', min:0, max:1, interval:0.2, position:'top', offset:7,
    axisLine:{show:true, onZero:false, lineStyle:{color:'#000', width:1}},
    axisTick:{show:true, length:4, lineStyle:{color:'#000'}}, splitLine:{show:false},
    axisLabel:Object.assign({margin:6, formatter:v=>v.toFixed(1)}, txt(16)),
    name:'Membership Probability', nameLocation:'middle', nameGap:30, nameTextStyle:txt(17)});
  yAxes.push({gridIndex:gi, type:'category', data:rows.map((r,i)=>'s'+i), inverse:true, z:10,
    axisLine:{show:false}, axisTick:{show:false}, axisLabel:{show:false},
    splitLine:{show:true, interval:2, lineStyle:{color:'#ffffff', width:1.5}}});
  for(let k=0;k<6;k++){
    series.push({type:'bar', name:'m'+gi+'_'+k, xAxisIndex:gi, yAxisIndex:gi, stack:'st'+gi, silent:true,
      barCategoryGap:'0%', itemStyle:{color:groupColors[k]},
      data: rows.map(r=>{ const hi = k<5 ? r[k] : 1, lo = k>0 ? r[k-1] : 0; return Math.max(0, +(hi-lo).toFixed(4)); })});
  }
}

// ---------- build ----------
xAxes.push(hidden(0, -17.3, 10.3)); yAxes.push(hidden(0, -14.1, 13.4));
scatterPanel(0, scatA1, ellA1, true);
insetPanel(1, eigA1, 207);
densPanel(2, densB1, rugB1, [-8.27,4.9], ticksB1x, [-0.034,0.867], ticksB1y);
densPanel(3, densC1, rugC1, [-4.32,4.18], ticksC1x, [-0.034,1.015], ticksC1y);
loadPanel(4, loadD1, plasmidD1, '#178a3c', [-0.0021,0.0542], ticksD1y, 8);
treePanel(5);
memPanel(6, memE1);
xAxes.push(hidden(7, -14.7, 12.9)); yAxes.push(hidden(7, -8.3, 19.2));
scatterPanel(7, scatA2, ellA2, false);
insetPanel(8, eigA2, 208);
densPanel(9, densB2, rugB2, [-5.31,5.06], ticksB2x, [-0.0386,0.993], ticksB2y);
densPanel(10, densC2, rugC2, [-5.27,11.14], ticksC2x, [-0.029,0.758], ticksC2y);
loadPanel(11, loadD2, chromD2, '#1d8fb8', [-0.0016,0.0420], ticksD2y, 10);
treePanel(12);
memPanel(13, memE2);

const T = (x,y,text,size,extra) => Object.assign({type:'text', x, y, silent:true,
  style:Object.assign({text, fontSize:size, fontFamily:FONT, fill:'#000', align:'left', verticalAlign:'middle'}, (extra&&extra.style)||{})},
  extra ? {rotation: extra.rotation||0} : {});
const graphic = [
  T(12,18.5,'A',22), T(425,18.5,'B',22), T(800,18.5,'C',22), T(1190,18.5,'D',22), T(1655,18.5,'E',22),
  T(34,61,'All accessory gene orthologues',21),
  T(34,412,'Accessory gene orthologues excluding those associated with pSK1 and/or pBPH2003',21),
  T(36,203.5,'DF1',16), T(36,612.5,'DF1',16),
  T(208,79,'DF2',16,{rotation:-Math.PI/2, style:{verticalAlign:'bottom'}}),
  T(182,430,'DF2',16,{rotation:-Math.PI/2, style:{verticalAlign:'bottom'}}),
  T(1287,107,'Plasmid-associated',17,{style:{fill:'#178a3c'}}),
  T(1287,128,'Chromosome-associated',17,{style:{fill:'#1f95bf'}}),
  T(1735,172,'AA',17), T(1732,317,'AUS',17),
  T(1735,523,'AA',17), T(1732,667,'AUS',17)
];

const chart = echarts.init(document.getElementById('c'), null, {renderer:'canvas'});
chart.setOption({
  animation:false, backgroundColor:'#fff', textStyle:{fontFamily:FONT},
  grid:grids, xAxis:xAxes, yAxis:yAxes, series, graphic,
  legend:{data:groups.map((g,k)=>({name:g, icon:'circle',
      itemStyle:{color:rgba(groupColors[k],0.55), borderColor:rgba(groupColors[k],0.7), borderWidth:1.5}})),
    orient:'vertical', left:319, top:234, itemWidth:15, itemHeight:15, itemGap:3.6, padding:[4,6,4,5],
    borderColor:'#000', borderWidth:1.2, selectedMode:false, textStyle:txt(16)}
});
</script></body></html>
